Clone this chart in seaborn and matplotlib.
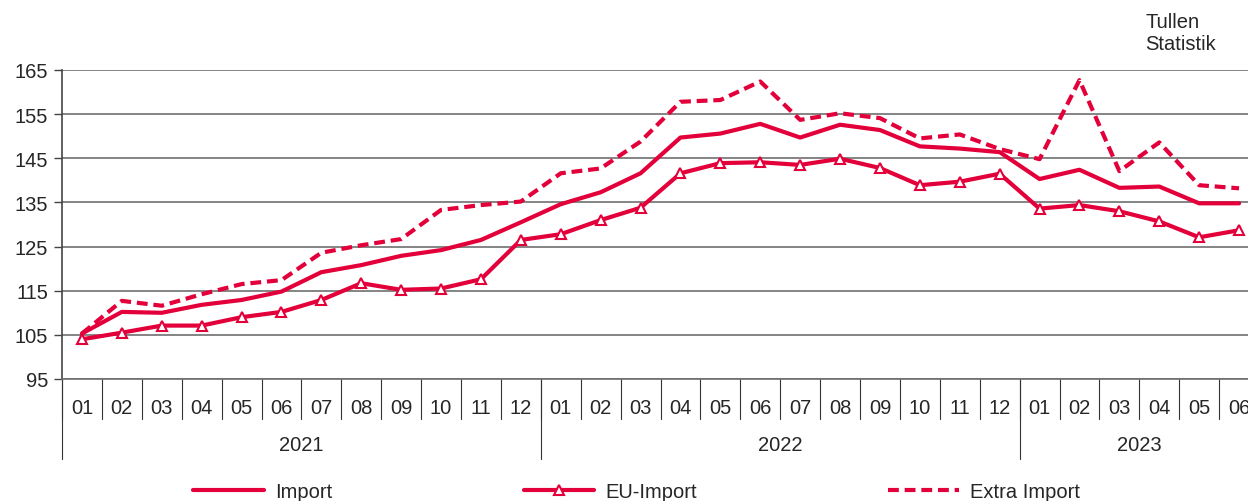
import pandas as pd
import matplotlib
matplotlib.use('Agg')
import matplotlib.pyplot as plt
import seaborn as sns

# --- Daten ---
months = ['01', '02', '03', '04', '05', '06', '07', '08', '09', '10', '11', '12'] * 2 + \
         ['01', '02', '03', '04', '05', '06']
years = ['2021', '2022', '2023']
year_len = [12, 12, 6]

import_vals = [105.3, 110.2, 110.0, 111.8, 112.9, 114.8, 119.2, 120.8, 122.9, 124.2, 126.5, 130.5,
               134.6, 137.3, 141.6, 149.7, 150.6, 152.8, 149.7, 152.6, 151.4, 147.7, 147.2, 146.4,
               140.3, 142.4, 138.3, 138.6, 134.8, 134.8]
eu_vals = [104.0, 105.5, 107.1, 107.1, 109.0, 110.2, 112.9, 116.7, 115.2, 115.5, 117.6, 126.5,
           127.8, 131.0, 133.8, 141.6, 143.9, 144.1, 143.5, 144.9, 142.8, 138.9, 139.7, 141.5,
           133.6, 134.4, 133.0, 130.7, 127.1, 128.7]
extra_vals = [105.3, 112.7, 111.6, 114.2, 116.5, 117.4, 123.6, 125.3, 126.7, 133.3, 134.4, 135.2,
              141.6, 142.7, 148.8, 157.8, 158.2, 162.4, 153.7, 155.2, 154.1, 149.5, 150.4, 147.1,
              144.8, 162.7, 142.1, 148.6, 138.9, 138.2]

df = pd.DataFrame({
    'pos': list(range(len(months))),
    'Import': import_vals,
    'EU-Import': eu_vals,
    'Extra Import': extra_vals,
})

RED = '#E3003A'
GRID = '#707070'

sns.set_style('white')
plt.rcParams['font.family'] = ['Liberation Sans', 'DejaVu Sans']

fig = plt.figure(figsize=(12.48, 5.02), dpi=100)
ax = fig.add_axes([62 / 1248, 122 / 502, 1197 / 1248, 309 / 502])

sns.lineplot(data=df, x='pos', y='Import', ax=ax, color=RED, linewidth=3, label='Import')
sns.lineplot(data=df, x='pos', y='EU-Import', ax=ax, color=RED, linewidth=3,
             marker='^', markersize=7, markerfacecolor='white', markeredgecolor=RED,
             markeredgewidth=1.5, label='EU-Import')
sns.lineplot(data=df, x='pos', y='Extra Import', ax=ax, color=RED, linewidth=3,
             dashes=False, label='Extra Import')
ax.lines[-1].set_dashes((2.6, 1.4))

ax.set_xlim(-0.5, len(months) - 0.5)
ax.set_ylim(95, 165)
ax.set_yticks(range(95, 166, 10))
ax.yaxis.grid(True, color=GRID, linewidth=1.2)
ax.set_axisbelow(True)
ax.tick_params(axis='y', direction='out', length=6, width=1, color='#444444',
               labelsize=14.5, pad=4, left=True)
ax.set_xticks([])
ax.set_xlabel('')
ax.set_ylabel('')

for s in ['top', 'right']:
    ax.spines[s].set_visible(False)
ax.spines['left'].set_color('#444444')
ax.spines['left'].set_linewidth(1.2)
ax.spines['bottom'].set_color(GRID)
ax.spines['bottom'].set_linewidth(1.2)

# Kategorie-Achse mit Monaten und Jahren
tr = ax.get_xaxis_transform()
for i, m in enumerate(months):
    ax.text(i, -0.092, m, transform=tr, ha='center', va='center', fontsize=14.5)
    ax.plot([i - 0.5, i - 0.5], [0, -0.13], transform=tr, color='#333333',
            linewidth=0.8, clip_on=False)

start = 0
for y, n in zip(years, year_len):
    ax.plot([start - 0.5, start - 0.5], [0, -0.26], transform=tr, color='#333333',
            linewidth=0.8, clip_on=False)
    ax.text(start + n / 2 - 0.5, -0.212, y, transform=tr, ha='center', va='center',
            fontsize=14.5)
    start += n

fig.text(1145 / 1248, 1 - 22 / 502, 'Tullen', ha='left', va='center', fontsize=14.5)
fig.text(1145 / 1248, 1 - 45 / 502, 'Statistik', ha='left', va='center', fontsize=14.5)

ax.get_legend().remove()
handles, labels = ax.get_legend_handles_labels()
fig.legend(handles, labels, loc='center', bbox_to_anchor=(0.510, 0.018), ncol=3,
           frameon=False, fontsize=14.5, handlelength=3.5, handletextpad=0.55,
           columnspacing=9.5)

fig.savefig('out.png', dpi=100)
